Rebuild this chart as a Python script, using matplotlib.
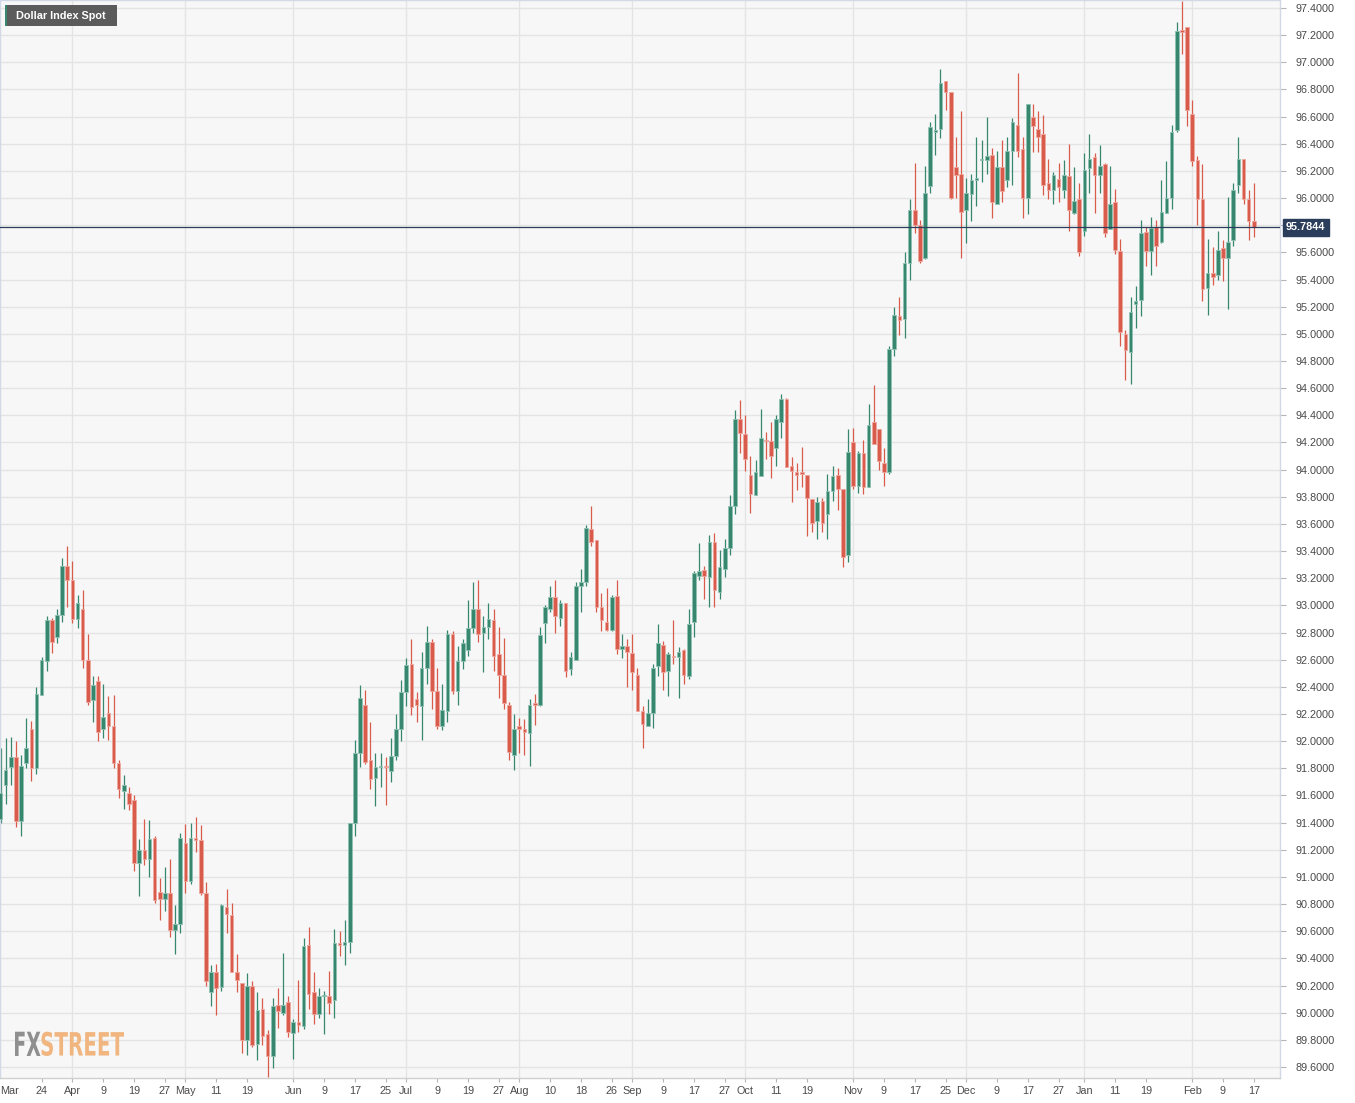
import numpy as np
import pandas as pd
import matplotlib
matplotlib.use("Agg")
import matplotlib.pyplot as plt
from matplotlib.patches import Rectangle, PathPatch
from matplotlib.textpath import TextPath
from matplotlib.font_manager import FontProperties
from matplotlib.transforms import Affine2D, blended_transform_factory

# Daily candles, Dollar Index Spot, 12 Mar 2021 -> 17 Feb 2022 (weekdays)
dates = pd.bdate_range("2021-03-12", "2022-02-17")

opens = [
    91.43, 91.68, 91.81, 91.88, 91.41, 91.84, 92.09, 91.80, 92.34, 92.59,
    92.89, 92.77, 92.93, 93.29, 93.19, 92.90, 92.97, 92.60, 92.30, 92.44,
    92.09, 92.21, 92.11, 91.84, 91.63, 91.62, 91.57, 91.10, 91.20, 91.13,
    91.29, 90.89, 90.84, 90.88, 90.61, 90.65, 91.25, 90.97, 91.29, 91.27,
    90.88, 90.15, 90.30, 90.19, 90.78, 90.72, 90.30, 90.22, 89.80, 90.20,
    89.77, 90.03, 89.84, 89.68, 90.06, 90.00, 90.08, 89.85, 89.93, 89.90,
    90.50, 90.15, 89.99, 90.12, 90.12, 90.09, 90.51, 90.50, 90.52, 91.40,
    91.91, 92.27, 91.86, 91.73, 91.81, 91.82, 91.78, 91.89, 92.09, 92.36,
    92.57, 92.31, 92.26, 92.54, 92.73, 92.37, 92.11, 92.22, 92.79, 92.37,
    92.59, 92.67, 92.83, 92.97, 92.80, 92.84, 92.89, 92.64, 92.49, 92.27,
    91.90, 92.11, 92.09, 92.06, 92.28, 92.27, 92.87, 92.97, 93.06, 92.91,
    93.02, 92.53, 92.60, 93.14, 93.17, 93.56, 93.48, 92.99, 92.88, 92.82,
    93.07, 92.68, 92.70, 92.65, 92.49, 92.22, 92.11, 92.21, 92.55, 92.71,
    92.52, 92.63, 92.62, 92.67, 92.48, 92.88, 93.22, 93.26, 93.21, 93.47,
    93.10, 93.27, 93.42, 93.73, 94.37, 94.26, 93.96, 93.81, 93.95, 94.22,
    94.21, 94.16, 94.35, 94.52, 94.03, 93.98, 93.98, 93.96, 93.78, 93.62,
    93.77, 93.67, 93.84, 93.96, 93.86, 93.37, 94.20, 93.88, 94.12, 93.87,
    94.35, 94.30, 94.05, 93.98, 94.89, 95.13, 95.11, 95.52, 95.91, 95.80,
    95.56, 96.09, 96.49, 96.51, 96.86, 96.78, 96.23, 96.18, 95.91, 96.03,
    96.13, 96.28, 96.28, 96.32, 95.96, 96.23, 96.13, 96.35, 96.54, 96.36,
    96.00, 96.60, 96.51, 96.47, 96.11, 96.06, 96.14, 96.06, 96.16, 95.89,
    95.99, 95.76, 96.22, 96.30, 96.17, 96.25, 95.77, 95.97, 95.61, 95.00,
    94.87, 95.22, 95.25, 95.75, 95.61, 95.79, 95.68, 95.89, 96.00, 96.50,
    97.24, 97.26, 96.62, 96.28, 95.99, 95.34, 95.45, 95.43, 95.63, 95.56,
    95.69, 96.10, 96.29, 95.99, 95.83,
]
highs = [
    91.95, 92.02, 92.03, 92.00, 91.90, 92.17, 92.15, 92.40, 92.62, 92.92,
    92.91, 92.97, 93.35, 93.44, 93.33, 93.08, 93.11, 92.79, 92.48, 92.48,
    92.42, 92.33, 92.34, 91.86, 91.75, 91.66, 91.60, 91.28, 91.43, 91.42,
    91.30, 90.99, 91.07, 91.13, 90.79, 91.32, 91.39, 91.40, 91.44, 91.38,
    90.96, 90.35, 90.36, 90.80, 90.91, 90.81, 90.43, 90.22, 90.29, 90.23,
    90.15, 90.11, 89.87, 90.11, 90.18, 90.44, 90.12, 89.95, 90.24, 90.55,
    90.63, 90.30, 90.18, 90.16, 90.31, 90.62, 90.60, 90.68, 91.40, 92.01,
    92.41, 92.38, 92.14, 91.91, 91.91, 91.88, 92.02, 92.20, 92.45, 92.61,
    92.75, 92.36, 92.66, 92.85, 92.75, 92.54, 92.42, 92.82, 92.81, 92.70,
    92.75, 93.04, 93.17, 93.19, 92.92, 93.02, 92.97, 92.84, 92.76, 92.29,
    92.20, 92.17, 92.16, 92.31, 92.35, 92.84, 93.00, 93.14, 93.19, 93.04,
    93.02, 92.66, 93.17, 93.27, 93.59, 93.73, 93.48, 93.09, 93.13, 93.08,
    93.19, 92.79, 92.75, 92.79, 92.54, 92.26, 92.31, 92.57, 92.86, 92.74,
    92.66, 92.89, 92.69, 92.68, 92.97, 93.25, 93.46, 93.29, 93.52, 93.53,
    93.41, 93.49, 93.81, 94.44, 94.51, 94.40, 94.10, 94.07, 94.45, 94.28,
    94.35, 94.40, 94.56, 94.53, 94.09, 94.05, 94.17, 93.96, 93.78, 93.80,
    93.79, 93.97, 94.03, 94.01, 93.86, 94.30, 94.31, 94.14, 94.22, 94.48,
    94.62, 94.30, 94.16, 94.91, 95.20, 95.27, 95.60, 95.99, 96.26, 95.84,
    96.24, 96.56, 96.62, 96.95, 96.86, 96.78, 96.45, 96.64, 96.15, 96.18,
    96.45, 96.43, 96.60, 96.37, 96.35, 96.43, 96.45, 96.59, 96.92, 96.45,
    96.69, 96.69, 96.64, 96.61, 96.29, 96.19, 96.26, 96.28, 96.40, 96.23,
    96.11, 96.33, 96.47, 96.33, 96.39, 96.26, 96.24, 96.07, 95.70, 95.03,
    95.27, 95.35, 95.84, 95.79, 95.86, 95.84, 96.13, 96.27, 96.54, 97.30,
    97.45, 97.26, 96.72, 96.31, 96.25, 95.70, 95.64, 95.76, 95.69, 96.01,
    96.11, 96.45, 96.29, 96.06, 96.11,
]
lows = [
    91.40, 91.54, 91.68, 91.37, 91.30, 91.80, 91.71, 91.76, 92.34, 92.52,
    92.65, 92.72, 92.88, 92.99, 92.87, 92.83, 92.54, 92.27, 92.14, 92.00,
    92.02, 92.01, 91.80, 91.58, 91.50, 91.49, 91.04, 90.86, 91.09, 91.00,
    90.81, 90.68, 90.75, 90.56, 90.43, 90.59, 90.88, 90.95, 91.18, 90.87,
    90.20, 90.05, 89.98, 90.16, 90.59, 90.30, 90.15, 89.70, 89.69, 89.75,
    89.65, 89.76, 89.53, 89.59, 89.89, 89.98, 89.82, 89.66, 89.86, 89.88,
    90.03, 89.92, 89.96, 89.84, 89.99, 89.96, 90.42, 90.35, 90.44, 91.30,
    91.81, 91.83, 91.65, 91.52, 91.66, 91.53, 91.70, 91.86, 92.00, 92.26,
    92.19, 92.14, 92.01, 92.42, 92.24, 92.09, 92.08, 92.14, 92.35, 92.27,
    92.53, 92.63, 92.80, 92.73, 92.51, 92.75, 92.52, 92.32, 92.24, 91.86,
    91.79, 91.91, 91.90, 91.82, 92.12, 92.26, 92.72, 92.95, 92.80, 92.85,
    92.47, 92.49, 92.60, 92.95, 93.14, 93.44, 92.95, 92.81, 92.81, 92.81,
    92.64, 92.61, 92.40, 92.38, 92.22, 91.95, 92.11, 92.10, 92.48, 92.38,
    92.33, 92.57, 92.32, 92.42, 92.46, 92.77, 93.19, 93.05, 92.99, 92.99,
    93.05, 93.21, 93.37, 93.67, 94.12, 93.99, 93.68, 93.81, 93.95, 94.08,
    93.94, 94.03, 94.23, 94.02, 93.76, 93.85, 93.87, 93.51, 93.54, 93.49,
    93.54, 93.49, 93.77, 93.70, 93.28, 93.32, 93.86, 93.83, 93.82, 93.87,
    94.19, 94.00, 93.88, 93.97, 94.84, 94.99, 94.97, 95.40, 95.74, 95.52,
    95.55, 96.04, 96.32, 96.44, 96.65, 95.99, 96.00, 95.56, 95.67, 95.83,
    95.94, 96.12, 96.18, 95.85, 95.96, 95.97, 96.08, 96.10, 96.30, 95.85,
    95.88, 96.34, 96.34, 96.02, 95.99, 95.96, 95.97, 96.00, 95.76, 95.88,
    95.57, 95.72, 96.04, 95.89, 96.04, 95.71, 95.77, 95.59, 94.91, 94.66,
    94.63, 95.04, 95.13, 95.50, 95.43, 95.50, 95.67, 95.89, 95.92, 96.49,
    97.06, 96.53, 96.24, 95.80, 95.24, 95.14, 95.36, 95.40, 95.39, 95.18,
    95.65, 96.04, 95.96, 95.69, 95.71,
]
closes = [
    91.62, 91.79, 91.88, 91.41, 91.82, 91.95, 91.80, 92.35, 92.60, 92.89,
    92.73, 92.93, 93.29, 93.19, 92.90, 93.02, 92.60, 92.29, 92.41, 92.07,
    92.18, 92.11, 91.84, 91.65, 91.68, 91.54, 91.10, 91.20, 91.13, 91.28,
    90.83, 90.84, 90.88, 90.61, 90.65, 91.29, 90.97, 91.29, 91.27, 90.88,
    90.23, 90.30, 90.18, 90.79, 90.73, 90.30, 90.24, 89.80, 90.20, 89.76,
    90.02, 89.83, 89.68, 90.05, 90.01, 90.06, 89.86, 89.93, 89.91, 90.49,
    90.14, 89.99, 90.12, 90.13, 90.07, 90.51, 90.50, 90.52, 91.40, 91.91,
    92.32, 91.85, 91.72, 91.81, 91.82, 91.81, 91.89, 92.09, 92.36, 92.56,
    92.25, 92.27, 92.54, 92.73, 92.37, 92.11, 92.23, 92.79, 92.37, 92.59,
    92.72, 92.83, 92.97, 92.79, 92.84, 92.90, 92.63, 92.49, 92.28, 91.92,
    92.09, 92.09, 92.07, 92.27, 92.27, 92.78, 92.99, 93.06, 92.92, 93.02,
    92.52, 92.62, 93.14, 93.17, 93.57, 93.47, 92.99, 92.89, 92.82, 93.06,
    92.68, 92.70, 92.66, 92.51, 92.22, 92.13, 92.21, 92.54, 92.72, 92.51,
    92.64, 92.62, 92.66, 92.49, 92.86, 93.24, 93.25, 93.22, 93.47, 93.11,
    93.28, 93.42, 93.73, 94.37, 94.27, 94.08, 93.82, 93.98, 94.23, 94.21,
    94.10, 94.37, 94.52, 94.02, 93.99, 93.96, 93.97, 93.79, 93.61, 93.76,
    93.61, 93.84, 93.95, 93.86, 93.36, 94.13, 93.88, 94.12, 93.87, 94.33,
    94.19, 94.06, 93.98, 94.89, 95.14, 95.10, 95.52, 95.91, 95.80, 95.54,
    96.04, 96.52, 96.50, 96.85, 96.78, 96.00, 96.17, 95.90, 96.04, 96.13,
    96.15, 96.29, 96.31, 95.97, 96.23, 96.05, 96.35, 96.56, 96.35, 96.00,
    96.69, 96.53, 96.45, 96.10, 96.06, 96.17, 96.08, 96.17, 95.91, 95.98,
    95.60, 96.21, 96.29, 96.17, 96.24, 95.74, 95.96, 95.62, 95.01, 94.88,
    95.16, 95.24, 95.74, 95.61, 95.78, 95.65, 95.90, 96.00, 96.49, 97.23,
    97.22, 96.65, 96.27, 95.99, 95.33, 95.45, 95.42, 95.62, 95.56, 95.68,
    96.06, 96.29, 95.99, 95.83, 95.7844,
]

tick_dates = [
    "2021-03-12", "2021-03-24", "2021-04-01", "2021-04-09", "2021-04-19",
    "2021-04-27", "2021-05-03", "2021-05-11", "2021-05-19", "2021-06-01",
    "2021-06-09", "2021-06-17", "2021-06-25", "2021-07-01", "2021-07-09",
    "2021-07-19", "2021-07-27", "2021-08-02", "2021-08-10", "2021-08-18",
    "2021-08-26", "2021-09-01", "2021-09-09", "2021-09-17", "2021-09-27",
    "2021-10-01", "2021-10-11", "2021-10-19", "2021-11-01", "2021-11-09",
    "2021-11-17", "2021-11-25", "2021-12-01", "2021-12-09", "2021-12-17",
    "2021-12-27", "2022-01-03", "2022-01-11", "2022-01-19", "2022-02-01",
    "2022-02-09", "2022-02-17",
]
tick_labels = [
    "Mar", "24", "Apr", "9", "19", "27", "May", "11", "19", "Jun",
    "9", "17", "25", "Jul", "9", "19", "27", "Aug", "10", "18",
    "26", "Sep", "9", "17", "27", "Oct", "11", "19", "Nov", "9",
    "17", "25", "Dec", "9", "17", "27", "Jan", "11", "19", "Feb",
    "9", "17",
]

title = "Dollar Index Spot"

UP, UP_EDGE = "#37876f", "#8fc2b3"
DOWN, DOWN_EDGE = "#d95b4b", "#eea89f"
NAVY = "#2a3d5a"
W, H = 1355, 1103

plt.rcParams["font.family"] = ["Liberation Sans", "DejaVu Sans"]

o = np.array(opens)
h = np.array(highs)
l = np.array(lows)
c = np.array(closes)
x = np.arange(len(dates))
up = c >= o

fig = plt.figure(figsize=(W / 100, H / 100), dpi=100, facecolor="white")
ax = fig.add_axes([0, 1 - 1078 / H, 1280 / W, 1078 / H])
ax.set_facecolor("#f7f7f7")

# grid: every 0.2 horizontally, month starts vertically
yt = np.round(np.arange(89.6, 97.41, 0.2), 1)
for v in yt:
    ax.axhline(v, color="#e4e4e4", lw=1.0, zorder=0)
month_starts = [i for i in range(1, len(dates)) if dates[i].month != dates[i - 1].month]
for i in month_starts:
    ax.axvline(i, color="#e4e4e4", lw=1.0, zorder=0)

# candles
wick_col = np.where(up, UP, DOWN)
ax.vlines(x, l, h, colors=wick_col, lw=0.9, zorder=2)
body_h = np.maximum(np.abs(c - o), 0.008)
ax.bar(x, body_h, bottom=np.minimum(o, c), width=0.7,
       color=np.where(up, UP, DOWN), edgecolor=np.where(up, UP_EDGE, DOWN_EDGE),
       linewidth=0.6, zorder=3)

# last price line and tag (the tag hides the tick label under it)
last = closes[-1]
ax.axhline(last, color=NAVY, lw=0.9, zorder=4)
tr = blended_transform_factory(ax.transAxes, ax.transData)
ax.text(1.0045, last, f"{last:.4f}", transform=tr, ha="left", va="center",
        fontsize=7.8, fontweight="bold", color="white", zorder=10, clip_on=False,
        bbox=dict(boxstyle="square,pad=0.3", fc=NAVY, ec=NAVY))

ax.set_xlim(-0.1, 249.1)
ax.set_ylim(89.519, 97.459)

ax.yaxis.tick_right()
ax.set_yticks(yt)
ylabels = ["" if abs(v - last) < 0.1 else f"{v:.4f}" for v in yt]
ax.set_yticklabels(ylabels)
ax.tick_params(axis="y", length=4, width=0.8, color="#b5b5b5", pad=7,
               labelsize=7.8, labelcolor="#4a4a4a")

pos = [dates.get_loc(pd.Timestamp(d)) for d in tick_dates]
pos[0] = 1.8
ax.set_xticks(pos)
ax.set_xticklabels(tick_labels)
ax.tick_params(axis="x", length=3, width=0.8, color="#b5b5b5", pad=3,
               labelsize=7.8, labelcolor="#4a4a4a")
ax.xaxis.get_major_ticks()[0].tick1line.set_visible(False)

for side, sp in ax.spines.items():
    sp.set_color("#d3d8e6")
    sp.set_linewidth(1.0)
ax.spines["bottom"].set_color("#cfcfcf")


def fx(px):
    return px / W


def fy(py):
    return 1 - py / H


# title box at top left
fig.add_artist(Rectangle((fx(7.3), fy(26)), fx(117.3) - fx(7.3), 21 / H,
                         transform=fig.transFigure, fc="#5b5b5b", ec="none", zorder=5))
fig.add_artist(Rectangle((fx(5), fy(26)), 2.3 / W, 21 / H,
                         transform=fig.transFigure, fc=UP, ec="none", zorder=5))
fig.text(fx(16), fy(15.8), title, color="white", fontsize=7.8, fontweight="bold",
         ha="left", va="center", zorder=6)


# FXSTREET logo, squeezed to the condensed look of the original
def logo_part(txt, x0, x1, color):
    prop = FontProperties(family="DejaVu Sans", weight="bold")
    path = TextPath((0, 0), txt, size=100, prop=prop)
    bb = path.get_extents()
    t = (Affine2D().translate(-bb.x0, -bb.y0)
         .scale((x1 - x0) / bb.width, 24.3 / bb.height)
         .translate(x0, H - 1056))
    fig.add_artist(PathPatch(path, transform=t, fc=color, ec="none", zorder=6))


logo_part("FX", 15, 40.5, "#8f8f8f")
logo_part("STREET", 41.5, 124, "#f1b67f")

fig.savefig("out.png", dpi=100, facecolor="white")
